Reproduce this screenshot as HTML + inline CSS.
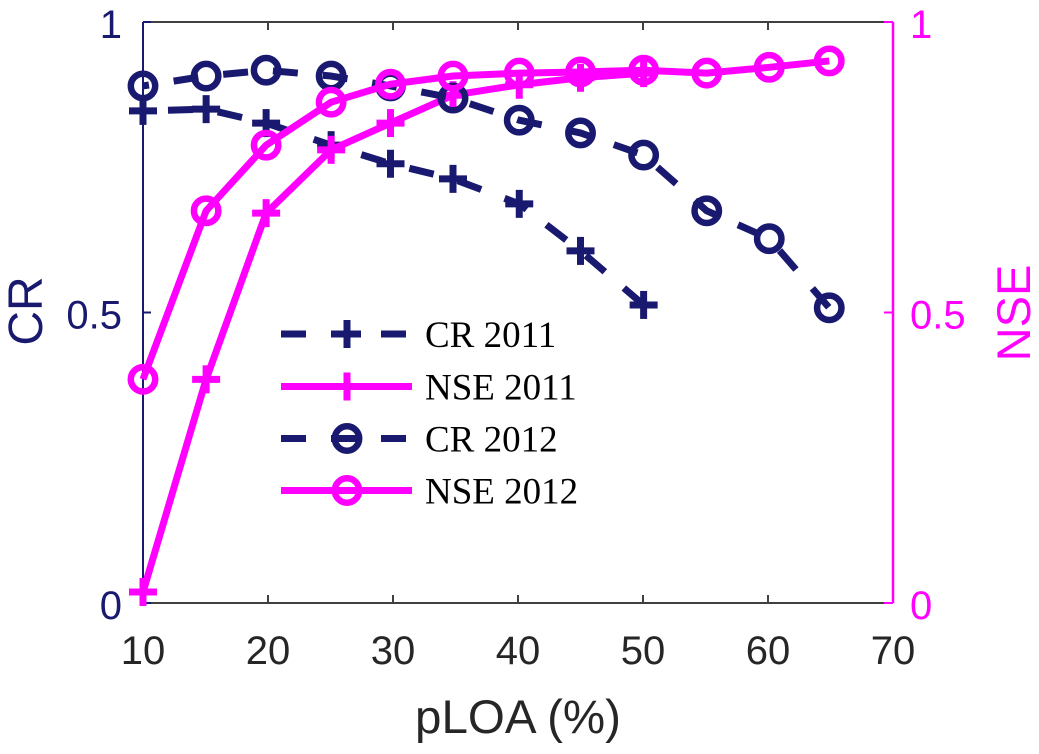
<!DOCTYPE html>
<html>
<head>
<meta charset="utf-8">
<title>CR and NSE vs pLOA</title>
<style>
html,body{margin:0;padding:0;background:#fff;width:1039px;height:754px;overflow:hidden}
svg{display:block}
text{font-family:"Liberation Sans",sans-serif}
.leg{font-family:"Liberation Serif",serif;font-size:37px;fill:#000}
</style>
</head>
<body>
<svg id="chart" width="1039" height="754" viewBox="0 0 1039 754" xmlns="http://www.w3.org/2000/svg">
  <g id="axes"></g>
  <g id="series"></g>
  <g id="legend"></g>
  <text x="518" y="733" font-size="47.5" text-anchor="middle" fill="#262626">pLOA (%)</text>
  <text transform="translate(42,311) rotate(-90)" font-size="48" text-anchor="middle" fill="#191970">CR</text>
  <text transform="translate(1030,313) rotate(-90)" font-size="47" text-anchor="middle" fill="#ff00ff">NSE</text>
</svg>
<script>
var xTicks = [10, 20, 30, 40, 50, 60, 70];
var yTicks = [0, 0.5, 1];
var xShort = [10, 15.05, 19.85, 25.05, 29.8, 34.8, 40.1, 45, 50.05];
var xLong = [10, 15.05, 19.85, 25.05, 29.8, 34.8, 40.1, 45, 50.05, 55.1, 60.1, 64.9];
var cr2011 = [0.847, 0.850, 0.826, 0.788, 0.756, 0.730, 0.687, 0.606, 0.513];
var nse2011 = [0.019, 0.385, 0.671, 0.780, 0.826, 0.874, 0.892, 0.904, 0.912];
var cr2012 = [0.890, 0.907, 0.917, 0.907, 0.890, 0.869, 0.831, 0.809, 0.771, 0.675, 0.627, 0.508];
var nse2012 = [0.385, 0.675, 0.788, 0.862, 0.893, 0.907, 0.912, 0.914, 0.917, 0.912, 0.922, 0.933];

var NS = 'http://www.w3.org/2000/svg';
var NAVY = '#191970', MAG = '#ff00ff', DARK = '#404040';
var L = 143, R = 893, T = 22, B = 603;
function sx(v) { return L + (v - 10) / 60 * (R - L); }
function sy(v) { return B - v * (B - T); }
function mk(parent, tag, attrs, name) {
  var el = document.createElementNS(NS, tag);
  for (var k in attrs) el.setAttribute(k, attrs[k]);
  
  
  parent.appendChild(el);
  return el;
}
function line(p, x1, y1, x2, y2, color, w, name) {
  return mk(p, 'line', {x1: x1, y1: y1, x2: x2, y2: y2, stroke: color, 'stroke-width': w}, name);
}
var axes = document.getElementById('axes');
line(axes, L, T, R, T, DARK, 2, 'top-axis-line');
line(axes, L, B, R, B, DARK, 2, 'x-axis-line');
line(axes, L, T, L, B, NAVY, 2, 'left-y-axis-line');
line(axes, R, T, R, B, MAG, 2.5, 'right-y-axis-line');
xTicks.forEach(function (t) {
  var x = sx(t);
  if (t !== 10 && t !== 70) {
    line(axes, x, B, x, B - 8, DARK, 2, 'x-tick-bottom');
    line(axes, x, T, x, T + 8, DARK, 2, 'x-tick-top');
  }
  var lab = mk(axes, 'text', {x: x, y: 664, 'font-size': 40, 'text-anchor': 'middle', fill: '#262626'}, 'x-tick-label');
  lab.textContent = t;
});
yTicks.forEach(function (t) {
  var y = sy(t);
  line(axes, L, y, L + 8, y, NAVY, 2, 'left-y-tick');
  line(axes, R, y, R - 9, y, MAG, 2, 'right-y-tick');
  var a = mk(axes, 'text', {x: 122, y: y + 16, 'font-size': 40, 'text-anchor': 'end', fill: NAVY}, 'left-y-tick-label');
  a.textContent = t;
  var b = mk(axes, 'text', {x: 910, y: y + 16, 'font-size': 40, 'text-anchor': 'start', fill: MAG}, 'right-y-tick-label');
  b.textContent = t;
});
function drawPlus(p, x, y, color, name) {
  line(p, x - 14, y, x + 14, y, color, 7, name + '-marker-h');
  line(p, x, y - 14, x, y + 14, color, 7, name + '-marker-v');
}
function drawCircle(p, x, y, color, name) {
  mk(p, 'circle', {cx: x, cy: y, r: 12.2, fill: 'none', stroke: color, 'stroke-width': 6.5}, name + '-marker');
}
function drawSeries(xs, ys, color, dashOffset, marker, name) {
  var g = document.getElementById('series');
  var pts = xs.map(function (v, i) { return sx(v) + ',' + sy(ys[i]); }).join(' ');
  var attrs = {points: pts, fill: 'none', stroke: color, 'stroke-width': 7, 'stroke-linejoin': 'round'};
  if (dashOffset !== null) { attrs['stroke-dasharray'] = '25 25'; attrs['stroke-dashoffset'] = dashOffset; }
  mk(g, 'polyline', attrs, name + '-line');
  xs.forEach(function (v, i) { marker(g, sx(v), sy(ys[i]), color, name); });
}
drawSeries(xShort, cr2011, NAVY, 25, drawPlus, 'cr-2011');
drawSeries(xShort, nse2011, MAG, null, drawPlus, 'nse-2011');
drawSeries(xLong, cr2012, NAVY, 19, drawCircle, 'cr-2012');
drawSeries(xLong, nse2012, MAG, null, drawCircle, 'nse-2012');

var leg = document.getElementById('legend');
function legendEntry(y, label, color, dash, marker, name) {
  var attrs = {x1: 281, y1: y, x2: 412 - (dash ? 6 : 0), y2: y, stroke: color, 'stroke-width': 7};
  if (dash) attrs['stroke-dasharray'] = '25 25';
  mk(leg, 'line', attrs, name + '-legend-line');
  marker(leg, 347, y, color, name + '-legend');
  var t = mk(leg, 'text', {x: 425, y: y + 13, 'class': 'leg'}, name + '-legend-label');
  t.textContent = label;
}
legendEntry(334, 'CR 2011', NAVY, true, drawPlus, 'cr-2011');
legendEntry(386.5, 'NSE 2011', MAG, false, drawPlus, 'nse-2011');
legendEntry(438.5, 'CR 2012', NAVY, true, drawCircle, 'cr-2012');
legendEntry(490.5, 'NSE 2012', MAG, false, drawCircle, 'nse-2012');
</script>
</body>
</html>
